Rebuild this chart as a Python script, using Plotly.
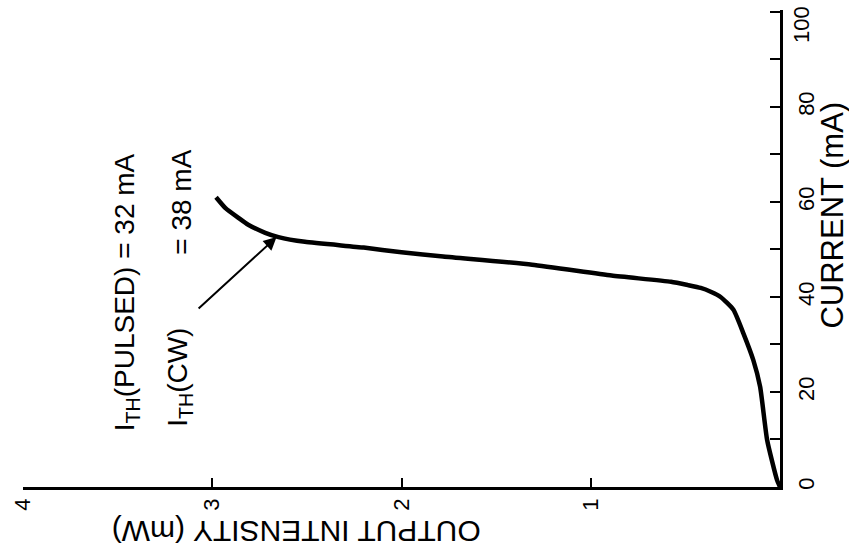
import plotly.graph_objects as go

# Light output vs. drive current (figure drawn turned 90 degrees)
current_ma = [0, 1.5, 9.9, 21.1, 26.7, 32.4, 37.3, 40.0, 41.1, 41.9, 42.5,
              43.2, 44.5, 46.8, 48.5, 49.4, 50.4, 51.6, 52.6, 53.5, 55.2,
              56.6, 58.7, 61.0]
intensity_mw = [0, 0.016, 0.068, 0.105, 0.141, 0.194, 0.246, 0.314, 0.366,
                0.419, 0.487, 0.576, 0.89, 1.31, 1.78, 2.00, 2.20, 2.51,
                2.65, 2.72, 2.81, 2.86, 2.93, 2.98]

intensity_ticks = [1, 2, 3, 4]
intensity_labels = ["1", "2", "3", "4"]
current_ticks = [0, 20, 40, 60, 80, 100]
current_labels = ["0", "20", "40", "60", "80", "100"]
current_minor = [10, 30, 50, 70, 90]

FONT = "Liberation Sans, Arial, sans-serif"
INK = "black"
TICK_SIZE = 22

fig = go.Figure()
fig.add_trace(go.Scatter(
    x=intensity_mw, y=current_ma, mode="lines",
    line=dict(color=INK, width=4.5, shape="spline", smoothing=0.5),
    showlegend=False, hoverinfo="skip",
))

# the top label sits at the edge of the page, so it is drawn as an annotation
axis_ticktext = [t if v != current_ticks[-1] else "" for v, t in zip(current_ticks, current_labels)]

fig.update_layout(
    width=849, height=558,
    margin=dict(l=17, r=69, t=10, b=71),
    paper_bgcolor="white", plot_bgcolor="white",
    font=dict(family=FONT, color=INK),
    xaxis=dict(
        range=[4, 0], showgrid=False, zeroline=False,
        showline=True, linecolor=INK, linewidth=2.5,
        ticks="inside", ticklen=9, tickwidth=2, tickcolor=INK,
        tickvals=intensity_ticks, ticktext=intensity_labels,
        tickangle=-90, tickfont=dict(size=TICK_SIZE, family=FONT, color=INK),
        side="bottom",
    ),
    yaxis=dict(
        range=[0, 100.4], showgrid=False, zeroline=False,
        showline=True, linecolor=INK, linewidth=2.5,
        side="right",
        ticks="inside", ticklen=10, tickwidth=2, tickcolor=INK,
        tickvals=current_ticks, ticktext=axis_ticktext,
        minor=dict(tickvals=current_minor, ticks="inside",
                   ticklen=10, tickwidth=2, tickcolor=INK),
        tickangle=-90, tickfont=dict(size=TICK_SIZE, family=FONT, color=INK),
        ticklabelstandoff=5,
    ),
)

fig.add_annotation(x=1, y=current_ticks[-1], xref="paper", yref="y",
                   text=current_labels[-1], showarrow=False, textangle=-90,
                   font=dict(size=TICK_SIZE, family=FONT, color=INK),
                   xanchor="left", yanchor="top", xshift=7, yshift=8)

def px_to_paper(px, py):
    return (px - 17) / 763, (487 - py) / 477

# Axis titles
tx, ty = px_to_paper(832, 215)
fig.add_annotation(x=tx, y=ty, xref="paper", yref="paper", showarrow=False,
                   text="CURRENT (mA)", textangle=-90,
                   font=dict(size=31, family=FONT, color=INK),
                   xanchor="center", yanchor="middle")
tx, ty = px_to_paper(292, 532)
fig.add_annotation(x=tx, y=ty, xref="paper", yref="paper", showarrow=False,
                   text="OUTPUT INTENSITY (mW)", textangle=180,
                   font=dict(size=30, family=FONT, color=INK),
                   xanchor="center", yanchor="middle")

# Threshold labels
tx, ty = px_to_paper(121, 292)
fig.add_annotation(x=tx, y=ty, xref="paper", yref="paper", showarrow=False,
                   text="I<sub>TH</sub>(PULSED) = 32 mA", textangle=-90,
                   font=dict(size=28, family=FONT, color=INK),
                   xanchor="center", yanchor="middle")
tx, ty = px_to_paper(174, 377)
fig.add_annotation(x=tx, y=ty, xref="paper", yref="paper", showarrow=False,
                   text="I<sub>TH</sub>(CW)", textangle=-90,
                   font=dict(size=28, family=FONT, color=INK),
                   xanchor="center", yanchor="middle")
tx, ty = px_to_paper(176, 202)
fig.add_annotation(x=tx, y=ty, xref="paper", yref="paper", showarrow=False,
                   text="= 38 mA", textangle=-90,
                   font=dict(size=28, family=FONT, color=INK),
                   xanchor="center", yanchor="middle")

# Arrow pointing at the knee of the curve
fig.add_annotation(x=2.66, y=52.6, xref="x", yref="y",
                   ax=3.08, ay=37.3, axref="x", ayref="y",
                   text="", showarrow=True, arrowhead=2, arrowsize=1.3,
                   arrowwidth=2, arrowcolor=INK)

fig.write_html("out.html")
